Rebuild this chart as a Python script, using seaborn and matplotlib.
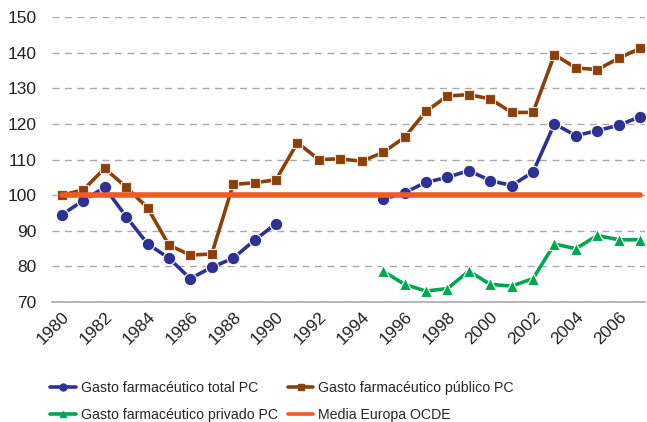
import matplotlib
matplotlib.use("Agg")
import matplotlib.pyplot as plt
import seaborn as sns
import numpy as np
import pandas as pd
from matplotlib.lines import Line2D
from matplotlib.font_manager import FontProperties

years_a = list(range(1980, 1991))
years_b = list(range(1995, 2008))
years_all = list(range(1980, 2008))

total_a = [94.5, 98.5, 102.2, 94.0, 86.4, 82.3, 76.6, 79.8, 82.3, 87.4, 92.0]
total_b = [98.8, 100.7, 103.6, 105.0, 106.9, 104.1, 102.7, 106.5, 120.0, 116.7, 118.1, 119.6, 122.0]
publico = [100.0, 101.5, 107.5, 102.3, 96.5, 86.0, 83.2, 83.5, 103.0, 103.5, 104.3, 114.7, 110.0,
           110.2, 109.5, 112.0, 116.2, 123.5, 127.8, 128.2, 127.0, 123.2, 123.2, 139.4, 135.7,
           135.2, 138.4, 141.2]
privado = [78.7, 75.0, 73.1, 73.8, 78.7, 75.0, 74.5, 76.6, 86.3, 85.0, 88.7, 87.5, 87.5]
media = [100.0] * len(years_all)

labels = ["Gasto farmacéutico total PC", "Gasto farmacéutico público PC",
          "Gasto farmacéutico privado PC", "Media Europa OCDE"]
xticks = list(range(1980, 2007, 2))
yticks = list(range(70, 151, 10))

c_total = "#2E3192"
c_pub = "#8B400C"
c_priv = "#00A651"
c_media = "#F15A24"

sns.set_style("white")
plt.rcParams['font.family'] = ['Liberation Sans', 'DejaVu Sans']

fig = plt.figure(figsize=(6.47, 4.22), dpi=100)
ax = fig.add_axes([0.080, 0.284, 0.917, 0.676])

lw = 2.6
ms = 7.5
mec = "#F2E6DA"

sns.lineplot(x=years_all, y=media, ax=ax, color=c_media, linewidth=4, zorder=4,
             solid_capstyle="round")
sns.lineplot(x=years_all, y=publico, ax=ax, color=c_pub, linewidth=lw, marker="s",
             markersize=ms, markeredgecolor=mec, markeredgewidth=0.8, zorder=3)
sns.lineplot(x=years_a, y=total_a, ax=ax, color=c_total, linewidth=lw, marker="o",
             markersize=ms + 1.5, markeredgecolor="white", markeredgewidth=0.8, zorder=3)
sns.lineplot(x=years_b, y=total_b, ax=ax, color=c_total, linewidth=lw, marker="o",
             markersize=ms + 1.5, markeredgecolor="white", markeredgewidth=0.8, zorder=3)
sns.lineplot(x=years_b, y=privado, ax=ax, color=c_priv, linewidth=lw, marker="^",
             markersize=ms + 1.5, markeredgecolor="white", markeredgewidth=0.8, zorder=3)

ax.set_xlim(1979.53, 2007.23)
ax.set_ylim(70, 150)
ax.set_yticks(yticks)
ax.set_xticks(xticks)
ax.set_xticklabels([str(x) for x in xticks], rotation=45, ha="right", rotation_mode="anchor")
ax.tick_params(axis="both", labelsize=12.5, length=0, colors="#222222")
ax.tick_params(axis="x", pad=5)
ax.tick_params(axis="y", pad=11)
ax.yaxis.grid(True, linestyle=(0, (5, 4)), color="#AAAAAA", linewidth=1)
ax.xaxis.grid(False)
for s in ["top", "right", "left"]:
    ax.spines[s].set_visible(False)
ax.spines["bottom"].set_color("#AAAAAA")
ax.spines["bottom"].set_linewidth(1.2)
ax.set_axisbelow(True)

h_total = Line2D([], [], color=c_total, linewidth=lw, marker="o", markersize=5)
h_pub = Line2D([], [], color=c_pub, linewidth=lw, marker="s", markersize=5)
h_priv = Line2D([], [], color=c_priv, linewidth=lw, marker="^", markersize=5)
h_media = Line2D([], [], color=c_media, linewidth=lw)
leg_font = FontProperties(family=['Liberation Sans', 'DejaVu Sans'], size=10.2)
fig.legend([h_total, h_priv, h_pub, h_media],
           [labels[0], labels[2], labels[1], labels[3]],
           ncol=2, loc="lower left", bbox_to_anchor=(0.058, -0.03),
           frameon=False, prop=leg_font, handlelength=1.8, handletextpad=0.35,
           columnspacing=0.7, labelspacing=0.9)

fig.savefig("out.png", dpi=100)
